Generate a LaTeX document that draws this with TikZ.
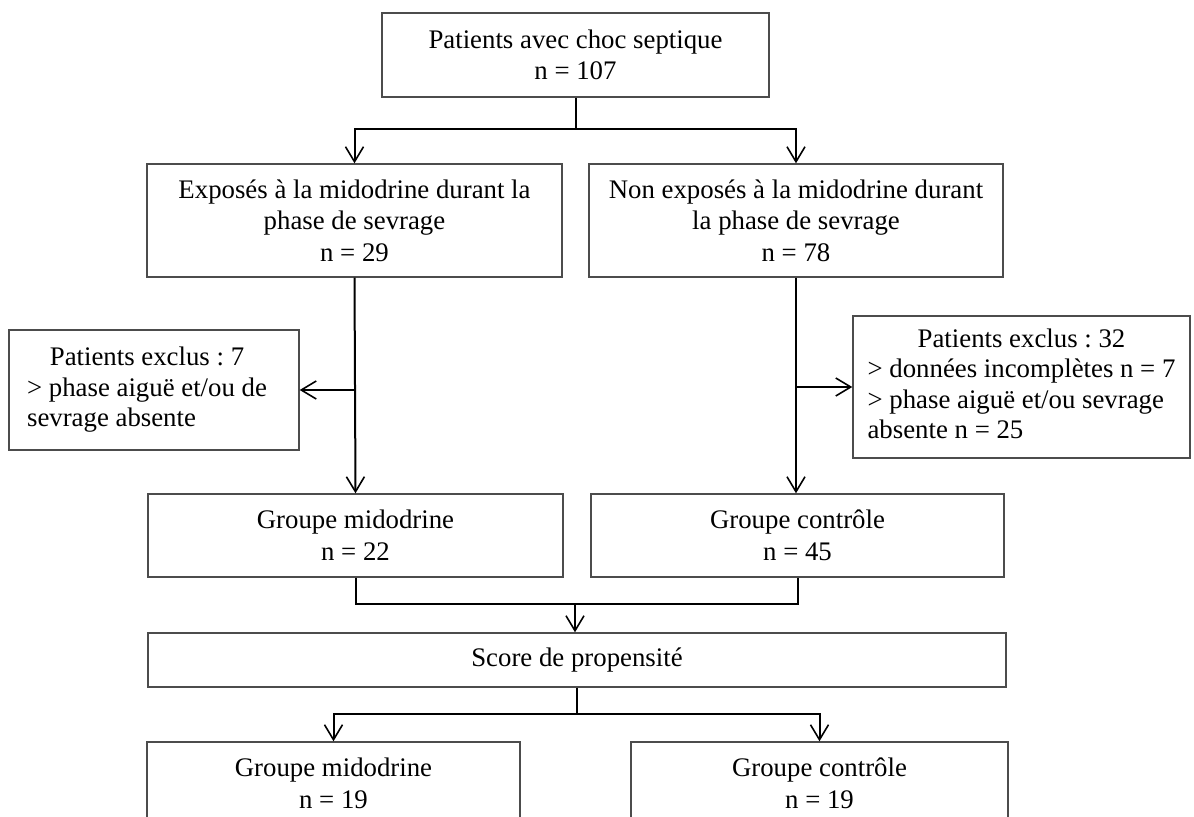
\documentclass[tikz,border=0pt]{standalone}
\usepackage{fontspec}
\setmainfont{Liberation Serif}
\usetikzlibrary{arrows.meta,positioning}
\frenchspacing

\begin{document}
\begin{tikzpicture}[x=0.5pt,y=-0.5pt]
\tikzstyle{box}=[draw=black!70,line width=0.7pt,rectangle,align=center,inner sep=0pt,font=\fontsize{13.4}{15.8}\selectfont]
\tikzstyle{exclbox}=[box,font=\fontsize{13.4}{15.2}\selectfont]
\tikzstyle{arr}=[line width=1pt,-{Straight Barb[length=7.5pt,width=9pt,line width=0.8pt]}]
\tikzstyle{ln}=[line width=1pt]
\clip (0,0) rectangle (1194,817);
\node[box,minimum width=193.5pt,minimum height=42pt] (top) at (575.5,55) {Patients avec choc septique\\ n = 107};
\node[box,minimum width=207.5pt,minimum height=56.5pt] (expo) at (354.5,220.5) {Exposés à la midodrine durant la\\ phase de sevrage\\ n = 29};
\node[box,minimum width=207pt,minimum height=56.5pt] (nonexpo) at (796,220.5) {Non exposés à la midodrine durant\\ la phase de sevrage\\ n = 78};
\node[exclbox,minimum width=145pt,minimum height=60pt] (exclA) at (154,390) {\begin{tabular}{@{}l@{}}\multicolumn{1}{@{}c@{}}{Patients exclus : 7}\\ > phase aiguë et/ou de\\ sevrage absente\end{tabular}\hspace{7pt}};
\node[exclbox,minimum width=168.5pt,minimum height=71pt] (exclB) at (1021.5,387) {\begin{tabular}{@{}l@{}}\multicolumn{1}{@{}c@{}}{Patients exclus : 32}\\ > données incomplètes n = 7\\ > phase aiguë et/ou sevrage\\ absente n = 25\end{tabular}};
\node[box,minimum width=207.5pt,minimum height=41.5pt] (midoA) at (355.5,535.5) {Groupe midodrine\\ n = 22};
\node[box,minimum width=206.5pt,minimum height=41.5pt] (ctrlA) at (797.5,535.5) {Groupe contrôle\\ n = 45};
\node[box,minimum width=429pt,minimum height=27pt] (score) at (577,660) {Score de propensité};
\node[box,minimum width=186.5pt,minimum height=41.5pt] (midoB) at (333.5,783.5) {Groupe midodrine\\ n = 19};
\node[box,minimum width=188.5pt,minimum height=41.5pt] (ctrlB) at (819.5,783.5) {Groupe contrôle\\ n = 19};
\coordinate (split1) at (575.5,129);
\coordinate (merge) at (575,604);
\coordinate (split2) at (577,714);
\draw[ln] (top.south) -- (split1);
\draw[arr] (split1) -| (expo.north);
\draw[arr] (split1) -| (nonexpo.north);
\draw[arr] (expo.south) -- (midoA.north);
\draw[arr] (nonexpo.south) -- (nonexpo.south |- ctrlA.north);
\draw[arr] (expo.south |- exclA.east) -- (exclA.east);
\draw[arr] (nonexpo.south |- exclB.west) -- (exclB.west);
\draw[ln] (midoA.south) |- (merge) -| (ctrlA.south);
\draw[arr] (merge) -- (merge |- score.north);
\draw[ln] (score.south) -- (split2);
\draw[arr] (split2) -| (midoB.north);
\draw[arr] (split2) -| (ctrlB.north);
\end{tikzpicture}
\end{document}
